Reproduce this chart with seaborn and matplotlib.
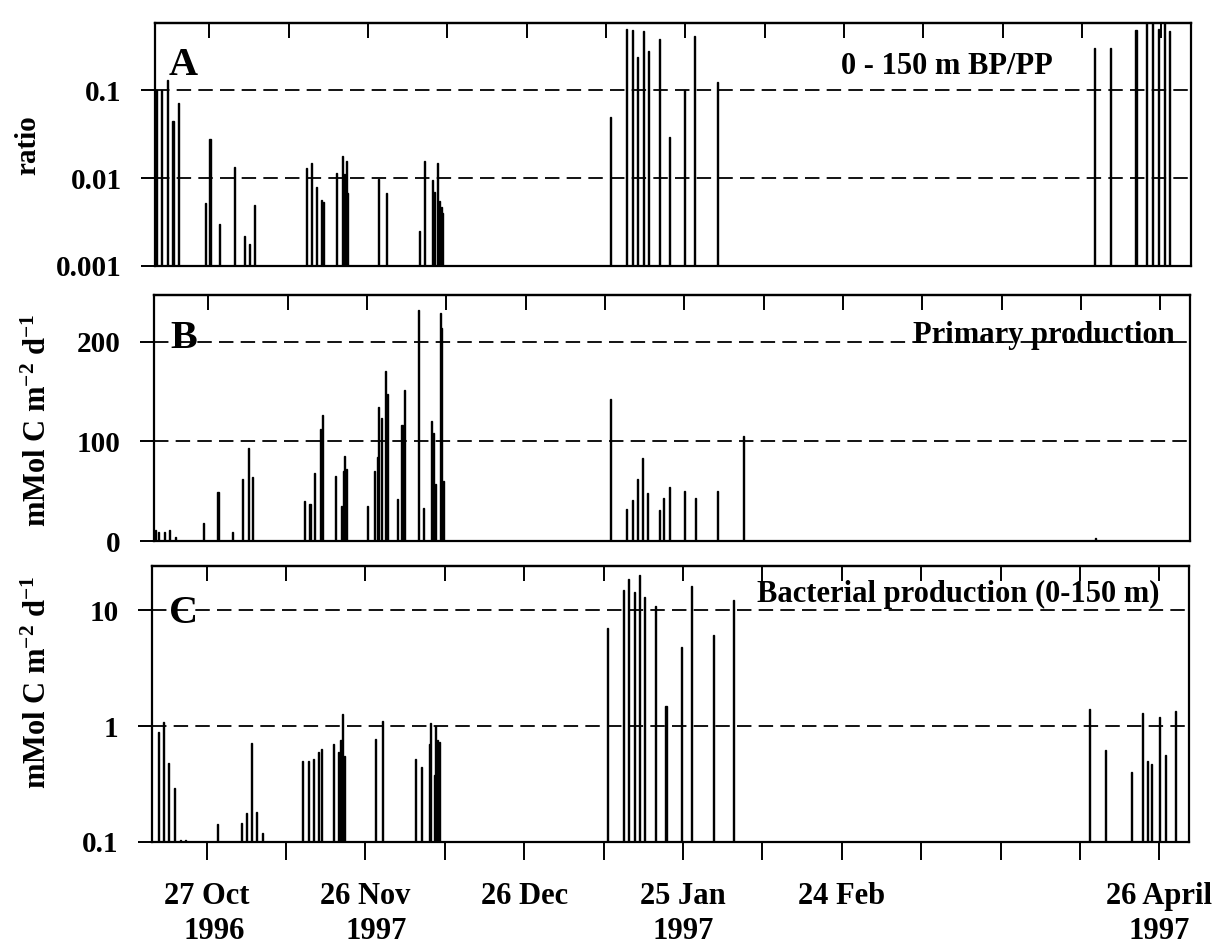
import numpy as np
import matplotlib
matplotlib.use('Agg')
import matplotlib.pyplot as plt
import matplotlib.ticker as mticker
import seaborn as sns

# x = days since 27 Oct 1996
ratio_day = [-10.1, -9.1, -8.0, -6.9, -5.9, -0.8, 0.1, 1.9, 4.7, 6.6, 7.6, 8.6,
             18.4, 19.3, 20.2, 21.1, 21.6, 24.1, 25.2, 25.5, 25.9, 26.1, 32.0, 33.4,
             39.7, 40.6, 42.2, 42.6, 43.2, 43.5, 43.8, 44.1,
             75.9, 78.9, 80.0, 80.9, 82.0, 83.0, 85.1, 87.0, 89.9, 91.8, 96.0,
             167.3, 170.3, 175.2, 177.1, 178.3, 179.4, 180.5, 181.5]
ratio_val = [0.1, 0.1, 0.13, 0.044, 0.071, 0.0052, 0.028, 0.003, 0.0133, 0.0022, 0.0018, 0.0049,
             0.013, 0.0148, 0.008, 0.0056, 0.0053, 0.0114, 0.0179, 0.011, 0.0158, 0.0068, 0.0098, 0.0068,
             0.0025, 0.0158, 0.0095, 0.007, 0.0148, 0.0055, 0.0047, 0.004,
             0.05, 0.49, 0.48, 0.24, 0.47, 0.28, 0.38, 0.029, 0.1, 0.41, 0.124,
             0.3, 0.3, 0.48, 0.65, 0.6, 0.5, 0.65, 0.47]

pp_day = [-10.0, -9.4, -8.4, -7.3, -6.2, -1.0, 1.8, 4.6, 6.4, 7.5, 8.4,
          18.2, 19.2, 20.1, 21.2, 21.5, 24.1, 25.1, 25.5, 25.8, 26.1,
          30.1, 31.4, 31.9, 32.2, 32.8, 33.4, 33.8, 35.8, 36.6, 37.1,
          39.7, 40.6, 42.2, 42.5, 42.9, 43.8, 44.1, 44.4,
          76.1, 79.1, 80.1, 81.1, 82.1, 83.1, 85.3, 86.1, 87.1, 90.0, 92.1, 96.2, 101.1,
          167.7]
pp_val = [11, 9.5, 9.5, 11, 4.4, 18, 49, 9.5, 62, 93, 64,
          40, 37, 68, 112, 127, 65, 35, 70, 85, 72,
          35, 70, 84, 135, 124, 171, 148, 42, 116, 152,
          232, 33, 120, 108, 57, 229, 214, 60,
          143, 32, 41, 62, 83, 48, 31, 43, 54, 50, 43, 50, 105,
          3]

bp_day = [-9.1, -8.1, -7.1, -6.0, -4.9, -3.9, 2.0, 6.6, 7.5, 8.5, 9.5, 10.5,
          18.2, 19.2, 20.2, 21.1, 21.7, 24.0, 25.0, 25.4, 25.7, 26.1, 31.9, 33.3,
          39.4, 40.7, 42.1, 42.4, 43.0, 43.3, 43.7, 44.1,
          75.8, 78.7, 79.7, 80.8, 81.8, 82.8, 84.8, 86.8, 89.7, 91.7, 95.7, 99.6,
          166.8, 169.9, 174.8, 176.9, 177.8, 178.6, 180.0, 181.1, 183.1]
bp_val = [0.89, 1.09, 0.48, 0.29, 0.105, 0.105, 0.142, 0.147, 0.179, 0.72, 0.18, 0.12,
          0.50, 0.50, 0.52, 0.60, 0.64, 0.70, 0.60, 0.76, 1.27, 0.55, 0.77, 1.11,
          0.52, 0.44, 0.70, 1.06, 0.38, 1.0, 0.76, 0.73,
          7.0, 14.8, 18.5, 14.3, 20.1, 13.0, 10.8, 1.48, 4.85, 16.0, 6.06, 12.2,
          1.4, 0.62, 0.4, 1.3, 0.5, 0.47, 1.2, 0.56, 1.35]

tick_days = list(range(0, 181, 15))
date_labels = {0: '27 Oct', 30: '26 Nov', 60: '26 Dec', 90: '25 Jan', 120: '24 Feb', 180: '26 April'}
year_labels = [(1.5, '1996'), (32, '1997'), (90, '1997'), (180, '1997')]

XLIM = (-10.3, 185.6)
BAR_DAYS = 0.2
SERIF = 'Liberation Serif'

sns.set_theme(style='ticks')
plt.rcParams['font.family'] = [SERIF, 'DejaVu Serif']
plt.rcParams['font.weight'] = 'bold'
plt.rcParams['text.color'] = 'black'
plt.rcParams['axes.labelcolor'] = 'black'
plt.rcParams['xtick.color'] = 'black'
plt.rcParams['ytick.color'] = 'black'
plt.rcParams['axes.edgecolor'] = 'black'
plt.rcParams['mathtext.fontset'] = 'custom'
plt.rcParams['mathtext.rm'] = SERIF + ':bold'
plt.rcParams['mathtext.it'] = SERIF + ':bold'
plt.rcParams['mathtext.bf'] = SERIF + ':bold'
plt.rcParams['axes.unicode_minus'] = False

W, H = 1223, 951
fig = plt.figure(figsize=(W / 100, H / 100), dpi=100)


def frame(left, top, right, bottom):
    return fig.add_axes([left / W, 1 - bottom / H, (right - left) / W, (bottom - top) / H])


axA = frame(155, 23, 1191, 266)
axB = frame(154, 295, 1190, 541)
axC = frame(152, 566, 1189, 842)


def draw_bars(ax, days, vals):
    d = np.asarray(days, float)
    step = np.min(np.diff(np.unique(d)))
    sns.barplot(x=d, y=np.asarray(vals, float), native_scale=True, orient='x',
                color='black', saturation=1, width=BAR_DAYS / step,
                errorbar=None, linewidth=1.0, edgecolor='black', ax=ax)


def style_axis(ax, bottom_labels=False):
    ax.set_xlim(*XLIM)
    for s in ax.spines.values():
        s.set_linewidth(1.6)
        s.set_color('black')
        s.set_visible(True)
    ax.minorticks_off()
    ax.tick_params(axis='y', direction='out', length=10, width=1.4, pad=14,
                   labelsize=21, colors='black', which='major')
    ax.tick_params(axis='y', which='minor', left=False, right=False)
    for lab in ax.get_yticklabels():
        lab.set_fontweight('bold')
    # inward ticks along the top
    sec = ax.secondary_xaxis('top')
    sec.set_xticks(tick_days)
    sec.tick_params(direction='in', length=11, width=1.4, labeltop=False, colors='black')
    sec.spines['top'].set_linewidth(1.6)
    if bottom_labels:
        ax.set_xticks(tick_days)
        ax.set_xticklabels([date_labels.get(t, '') for t in tick_days],
                           fontsize=22, fontweight='bold')
        ax.tick_params(axis='x', direction='out', length=13, width=1.4, pad=16, colors='black')
    else:
        ax.set_xticks([])
    ax.set_xlabel('')
    ax.set_ylabel('')


dash = (0, (8, 4))

# panel A: BP/PP ratio
axA.set_yscale('log')
draw_bars(axA, ratio_day, ratio_val)
axA.set_ylim(0.001, 0.58)
axA.set_yticks([0.001, 0.01, 0.1])
axA.yaxis.set_major_formatter(mticker.FixedFormatter(['0.001', '0.01', '0.1']))
for yv in (0.01, 0.1):
    axA.axhline(yv, color='black', lw=1.3, ls=dash, zorder=0.5)
style_axis(axA)
axA.text(0.0135, 0.786, 'A', transform=axA.transAxes, fontsize=29, fontweight='bold')
axA.text(0.662, 0.79, '0 - 150 m BP/PP', transform=axA.transAxes, fontsize=22, fontweight='bold')

# panel B: primary production
draw_bars(axB, pp_day, pp_val)
axB.set_ylim(0, 247)
axB.set_yticks([0, 100, 200])
for yv in (100, 200):
    axB.axhline(yv, color='black', lw=1.3, ls=dash, zorder=0.5)
style_axis(axB)
axB.text(0.0154, 0.785, 'B', transform=axB.transAxes, fontsize=29, fontweight='bold')
axB.text(0.985, 0.805, 'Primary production', transform=axB.transAxes, fontsize=22,
         fontweight='bold', ha='right')

# panel C: bacterial production
axC.set_yscale('log')
draw_bars(axC, bp_day, bp_val)
axC.set_ylim(0.1, 24)
axC.set_yticks([0.1, 1, 10])
axC.yaxis.set_major_formatter(mticker.FixedFormatter(['0.1', '1', '10']))
for yv in (1, 10):
    axC.axhline(yv, color='black', lw=1.3, ls=dash, zorder=0.5)
style_axis(axC, bottom_labels=True)
axC.text(0.0164, 0.793, 'C', transform=axC.transAxes, fontsize=29, fontweight='bold')
axC.text(0.5835, 0.87, 'Bacterial production (0-150 m)', transform=axC.transAxes,
         fontsize=22, fontweight='bold')

for d, y in year_labels:
    axC.text(d, -0.35, y, transform=axC.get_xaxis_transform(), ha='center', va='baseline',
             fontsize=22, fontweight='bold')

unit = r'mMol C m$^{-2}$ d$^{-1}$'
fig.text(28 / W, 1 - 145 / H, 'ratio', rotation=90, ha='center', va='center',
         fontsize=21, fontweight='bold')
fig.text(38 / W, 1 - 420 / H, unit, rotation=90, ha='center', va='center',
         fontsize=22, fontweight='bold')
fig.text(38 / W, 1 - 682 / H, unit, rotation=90, ha='center', va='center',
         fontsize=22, fontweight='bold')

fig.savefig('out.png', dpi=100)
